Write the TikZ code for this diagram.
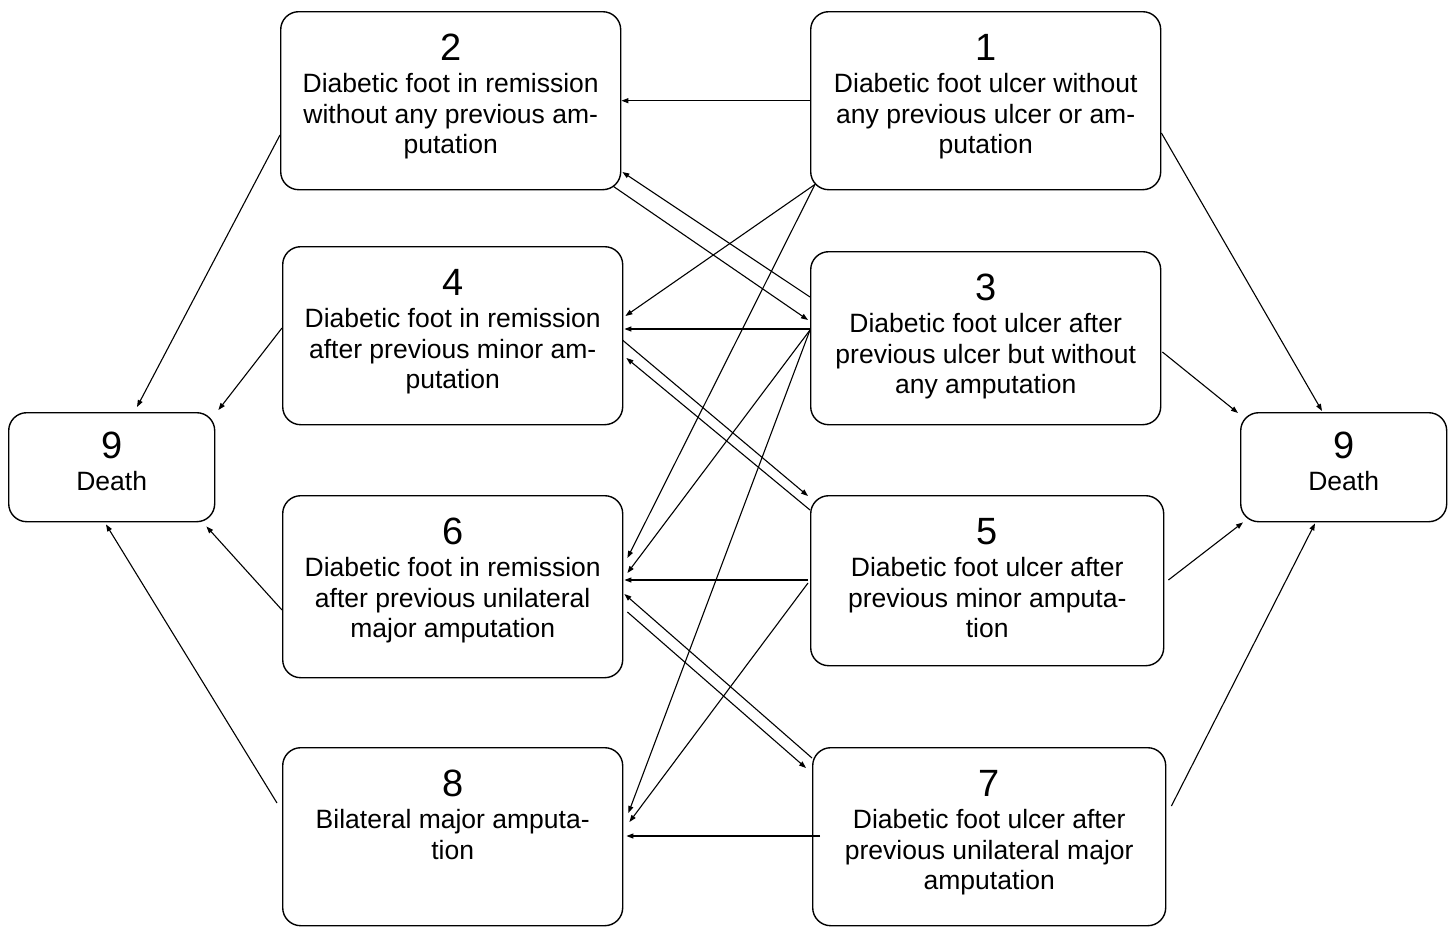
\documentclass[tikz,border=0pt]{standalone}
\usepackage{fontspec}
\setmainfont{Liberation Sans}
\usetikzlibrary{arrows.meta,calc}
\newcommand{\boxcontent}[5]{\parbox[c][#2][t]{#1}{\centering\fontsize{26.5}{30.5}\selectfont\rule{0pt}{#3}{\fontsize{38}{38}\selectfont #4}\\[1.5pt]#5\par}}
\begin{document}
\begin{tikzpicture}[x=1pt,y=-1pt,
  bx/.style={draw=black, line width=1.4pt, rounded corners=18pt, inner sep=0pt, anchor=north west},
  ar/.style={line width=1.1pt, -{Triangle[length=7pt,width=5pt]}}]
\useasboundingbox (0,0) rectangle (1450,926);

\node[bx] (b2) at (280,11) {\boxcontent{340pt}{178pt}{49pt}{2}{Diabetic foot in remission\\without any previous am-\\putation}};
\node[bx] (b1) at (810,11) {\boxcontent{350pt}{178pt}{49pt}{1}{Diabetic foot ulcer without\\any previous ulcer or am-\\putation}};
\node[bx] (b4) at (282,246) {\boxcontent{340pt}{178pt}{49pt}{4}{Diabetic foot in remission\\after previous minor am-\\putation}};
\node[bx] (b3) at (810,251) {\boxcontent{350pt}{173pt}{49pt}{3}{Diabetic foot ulcer after\\previous ulcer but without\\any amputation}};
\node[bx] (b6) at (282,495) {\boxcontent{340pt}{182pt}{49pt}{6}{Diabetic foot in remission\\after previous unilateral\\major amputation}};
\node[bx] (b5) at (810,495) {\boxcontent{353pt}{170pt}{49pt}{5}{Diabetic foot ulcer after\\previous minor amputa-\\tion}};
\node[bx] (b8) at (282,747) {\boxcontent{340pt}{178pt}{49pt}{8}{Bilateral major amputa-\\tion}};
\node[bx] (b7) at (812,747) {\boxcontent{353pt}{178pt}{49pt}{7}{Diabetic foot ulcer after\\previous unilateral major\\amputation}};
\node[bx] (dL) at (8,412) {\boxcontent{206pt}{109pt}{46pt}{9}{Death}};
\node[bx] (dR) at (1240,412) {\boxcontent{206pt}{109pt}{46pt}{9}{Death}};

% between states
\draw[ar] (b1.west) -- (b1.west -| b2.east);
\draw[ar] ($(b2.south east)+(-8,-4)$) -- ($(b3.north west)+(-2,69)$);
\draw[ar] ($(b3.north west)+(0,46)$) -- ($(b2.north east)+(1,161)$);
\draw[ar] ($(b1.south west)+(5,-6)$) -- ($(b4.north east)+(2,70)$);
\draw[ar] ($(b1.south west)+(5,-6)$) -- ($(b6.north east)+(4,63)$);
\draw[ar] ($(b3.north west)+(0,78)$) -- ($(b4.north east)+(1,83)$);
\draw[ar] ($(b3.north west)+(0,79)$) -- ($(b6.north east)+(4,78)$);
\draw[ar] ($(b3.north west)+(0,79)$) -- ($(b8.north east)+(5,66)$);
\draw[ar] ($(b4.north east)+(-1,94)$) -- ($(b5.north west)+(-2,1)$);
\draw[ar] ($(b5.north west)+(0,15)$) -- ($(b4.north east)+(3,112)$);
\draw[ar] ($(b5.north west)+(-2,85)$) -- ($(b6.north east)+(1,85)$);
\draw[ar] ($(b5.north west)+(-2,88)$) -- ($(b8.north east)+(6,75)$);
\draw[ar] ($(b7.north west)+(0,11)$) -- ($(b6.north east)+(1,99)$);
\draw[ar] ($(b6.north east)+(4,117)$) -- ($(b7.north west)+(-6,21)$);
\draw[ar] ($(b7.north west)+(8,89)$) -- ($(b8.north east)+(3,89)$);

% to death
\draw[ar] ($(b2.north west)+(0,124)$) -- ($(dL.north west)+(129,-5)$);
\draw[ar] ($(b4.north west)+(0,82)$) -- ($(dL.north east)+(3,-2)$);
\draw[ar] ($(b6.north west)+(0,115)$) -- ($(dL.south east)+(-9,4)$);
\draw[ar] ($(b8.north west)+(-5,56)$) -- ($(dL.south west)+(98,2)$);
\draw[ar] ($(b1.north east)+(0,122)$) -- ($(dR.north west)+(82,-1)$);
\draw[ar] ($(b3.north east)+(1,101)$) -- ($(dR.north west)+(-2,1)$);
\draw[ar] ($(b5.north east)+(4,85)$) -- ($(dR.south west)+(3,0)$);
\draw[ar] ($(b7.north east)+(5,59)$) -- ($(dR.south west)+(75,1)$);
\end{tikzpicture}
\end{document}
